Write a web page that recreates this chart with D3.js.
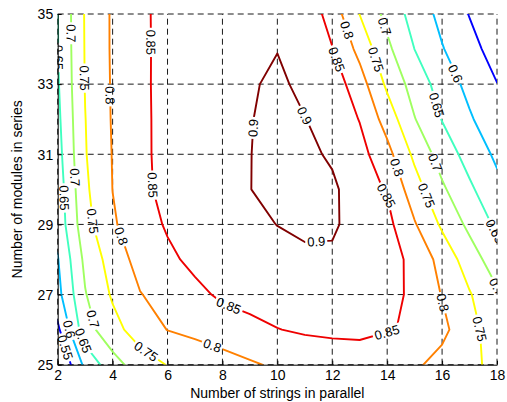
<!DOCTYPE html>
<html><head><meta charset="utf-8">
<script src="https://cdn.jsdelivr.net/npm/d3@7"></script>
<style>
html,body{margin:0;padding:0;background:#fff;}
svg{display:block;font-family:"Liberation Sans",Arial,Helvetica,sans-serif;}
</style></head><body>
<svg id="chart" width="507" height="402"></svg>
<script>
// ---------------- data ----------------
const stringsInParallel = [2,3,4,5,6,7,8,9,10,11,12,13,14,15,16,17,18];
const modulesInSeries = [35,34,33,32,31,30,29,28,27,26,25];
// efficiency[row][col]; rows follow modulesInSeries, cols follow stringsInParallel
const efficiency = [
 [0.649,0.754,0.806,0.838,0.869,0.877,0.884,0.888,0.890,0.888,0.827,0.749,0.685,0.630,0.586,0.548,0.515],
 [0.648,0.753,0.806,0.838,0.868,0.880,0.889,0.895,0.899,0.893,0.852,0.785,0.711,0.6495,0.603,0.566,0.530],
 [0.645,0.752,0.805,0.837,0.870,0.881,0.889,0.896,0.907,0.891,0.877,0.822,0.7405,0.679,0.629,0.5855,0.551],
 [0.639,0.749,0.804,0.836,0.870,0.884,0.893,0.898,0.913,0.901,0.884,0.848,0.779,0.702,0.648,0.606,0.566],
 [0.632,0.747,0.802,0.835,0.871,0.886,0.895,0.899,0.915,0.912,0.893,0.867,0.816,0.739,0.678,0.631,0.591],
 [0.623,0.741,0.8005,0.834,0.868,0.886,0.895,0.899,0.918,0.917,0.909,0.872,0.846,0.772,0.708,0.6585,0.6135],
 [0.618,0.732,0.7945,0.8265,0.8555,0.872,0.884,0.892,0.9005,0.912,0.906,0.883,0.8638,0.804,0.742,0.688,0.6405],
 [0.597,0.712,0.772,0.818,0.840,0.8617,0.874,0.883,0.889,0.888,0.893,0.882,0.868,0.838,0.782,0.725,0.672],
 [0.585,0.697,0.7566,0.798,0.8185,0.838,0.858,0.865,0.870,0.874,0.877,0.877,0.8726,0.8355,0.798,0.7537,0.708],
 [0.540,0.680,0.732,0.775,0.801,0.813,0.825,0.838,0.849,0.855,0.857,0.858,0.8515,0.847,0.812,0.767,0.722],
 [0.492,0.6125,0.681,0.725,0.752,0.7654,0.780,0.794,0.8073,0.8217,0.829,0.831,0.830,0.8075,0.784,0.761,0.737]
];
const contourLevels = [0.55,0.6,0.65,0.7,0.75,0.8,0.85,0.9];
const levelColors = ["#0000ff","#00bfff","#40ffbf","#9fff60","#ffff00","#ff8000","#ee0000","#800000"];
const xTickValues = [2,4,6,8,10,12,14,16,18];
const yTickValues = [25,27,29,31,33,35];
const xTitle = "Number of strings in parallel";
const yTitle = "Number of modules in series";
// contour labels: [level, approx strings, approx modules]
const labelSpots = [
 [0.7,2.48,34.45],[0.65,2.02,33.76],[0.75,2.9,33.17],[0.8,3.76,32.68],[0.85,5.3,34.19],
 [0.7,2.54,30.34],[0.65,2.12,29.75],[0.85,5.4,30.12],[0.75,3.11,29.08],[0.8,4.2,28.64],
 [0.6,2.37,26.0],[0.55,2.1,25.45],[0.65,2.83,25.66],[0.7,3.29,26.3],[0.75,5.18,25.33],
 [0.8,7.55,25.37],[0.85,8.2,26.62],[0.9,9.15,31.75],[0.9,10.97,32.09],[0.9,11.42,28.46],
 [0.85,11.99,33.66],[0.8,12.46,34.52],[0.75,13.52,33.69],[0.7,13.85,34.63],[0.6,16.38,33.26],
 [0.65,15.7,32.38],[0.8,14.25,30.6],[0.7,15.6,30.72],[0.85,13.81,29.75],[0.75,15.26,29.77],
 [0.65,17.82,28.76],[0.7,17.86,26.96],[0.8,15.99,26.76],[0.75,17.38,26.02],[0.85,14.04,25.8]
];

// ---------------- layout ----------------
const x = d3.scaleLinear().domain([2,18]).range([57.7,497]);
const y = d3.scaleLinear().domain([25,35]).range([364.7,14]);
const X0 = x(2), X1 = x(18), Y0 = y(35), Y1 = y(25);

const svg = d3.select("#chart");
const defs = svg.append("defs");
defs.append("clipPath").attr("id","plotClip").append("rect")
  .attr("x",X0).attr("y",Y0).attr("width",X1-X0).attr("height",Y1-Y0);
const mask = defs.append("mask").attr("id","labelMask")
  .attr("maskUnits","userSpaceOnUse").attr("x",0).attr("y",0).attr("width",507).attr("height",402);
mask.append("rect").attr("x",0).attr("y",0).attr("width",507).attr("height",402).attr("fill","#fff");

// grid
const grid = svg.append("g").attr("fill","none").attr("stroke","#000")
  .attr("stroke-width",0.9).attr("stroke-dasharray","6,4");
grid.selectAll("line.gx").data(xTickValues).join("line").attr("class","gx")
  .attr("x1",d=>x(d)).attr("x2",d=>x(d)).attr("y1",Y1).attr("y2",Y0);
grid.selectAll("line.gy").data(yTickValues).join("line").attr("class","gy")
  .attr("x1",X0).attr("x2",X1).attr("y1",d=>y(d)).attr("y2",d=>y(d));

// contours
const nx = stringsInParallel.length, ny = modulesInSeries.length;
const stepX = stringsInParallel[1]-stringsInParallel[0];
const stepY = modulesInSeries[1]-modulesInSeries[0];
const toData = (u,v) => [stringsInParallel[0] + (u-0.5)*stepX, modulesInSeries[0] + (v-0.5)*stepY];
const contourData = d3.contours().size([nx,ny]).thresholds(contourLevels)(efficiency.flat());
const proj = d3.geoTransform({point(u,v){ const p = toData(u,v); this.stream.point(x(p[0]), y(p[1])); }});
const path = d3.geoPath(proj);

const lines = svg.append("g").attr("clip-path","url(#plotClip)")
  .append("g").attr("mask","url(#labelMask)");
lines.selectAll("path").data(contourData).join("path")
  .attr("d",path).attr("fill","none")
  .attr("stroke",(d,i)=>levelColors[i]).attr("stroke-width",1.9)
  .attr("stroke-linejoin","round").attr("stroke-linecap","round");

// pixel rings per level for labels
const eps = 0.01;
const inside = p => p[0]>=X0-eps && p[0]<=X1+eps && p[1]>=Y0-eps && p[1]<=Y1+eps;
const pixelRings = contourData.map(mp => {
  const out = [];
  mp.coordinates.forEach(poly => poly.forEach(ring => {
    out.push(ring.map(([u,v]) => { const p = toData(u,v); return [x(p[0]), y(p[1])]; }));
  }));
  return out;
});

const labelG = svg.append("g").attr("clip-path","url(#plotClip)");
labelSpots.forEach(([lev, sx, sy]) => {
  const li = contourLevels.indexOf(lev);
  const px = x(sx), py = y(sy);
  let best = null;
  pixelRings[li].forEach(ring => {
    for (let k=0;k<ring.length-1;k++){
      const a = ring[k], b = ring[k+1];
      if (!inside(a) || !inside(b)) continue;
      const dx = b[0]-a[0], dy = b[1]-a[1];
      const L2 = dx*dx+dy*dy; if (L2 < 1e-9) continue;
      let t = ((px-a[0])*dx + (py-a[1])*dy)/L2; t = Math.max(0,Math.min(1,t));
      const qx = a[0]+t*dx, qy = a[1]+t*dy;
      const d2 = (qx-px)*(qx-px)+(qy-py)*(qy-py);
      if (!best || d2 < best.d2) best = {d2, qx, qy, ang: Math.atan2(dy,dx)*180/Math.PI};
    }
  });
  if (!best) return;
  let ang = best.ang;
  if (ang > 90) ang -= 180;
  if (ang <= -90) ang += 180;
  const txt = labelG.append("text")
    .attr("transform",`translate(${best.qx},${best.qy}) rotate(${ang})`)
    .attr("text-anchor","middle").attr("dy","0.36em")
    .attr("font-size",13).attr("fill","#000").text(String(lev));
  const w = txt.node().getComputedTextLength();
  mask.append("rect")
    .attr("transform",`translate(${best.qx},${best.qy}) rotate(${ang})`)
    .attr("x",-w/2-2).attr("y",-6).attr("width",w+4).attr("height",12).attr("fill","#000");
});

// axes
const xAxis = svg.append("g").attr("transform",`translate(0,${Y1})`)
  .call(d3.axisBottom(x).tickValues(xTickValues).tickSizeInner(-4).tickSizeOuter(0).tickFormat(d3.format("d")));
xAxis.selectAll("text").attr("y",5.5).attr("dy","0.71em").attr("font-size",14).attr("fill","#000")
  .attr("font-family","'Liberation Sans',Arial,sans-serif");
const yAxis = svg.append("g").attr("transform",`translate(${X0},0)`)
  .call(d3.axisLeft(y).tickValues(yTickValues).tickSizeInner(-4).tickSizeOuter(0).tickFormat(d3.format("d")));
yAxis.selectAll("text").attr("x",-4.5).attr("dy","0.34em").attr("font-size",14).attr("fill","#000")
  .attr("font-family","'Liberation Sans',Arial,sans-serif");
svg.selectAll(".domain").attr("stroke","#000").attr("stroke-width",1);
svg.selectAll(".tick line").attr("stroke","#000");

// titles
svg.append("text").attr("x",x(10)).attr("y",398).attr("text-anchor","middle")
  .attr("font-size",14).attr("fill","#000").text(xTitle);
svg.append("text").attr("transform",`translate(22,${y(30)}) rotate(-90)`).attr("text-anchor","middle")
  .attr("font-size",14).attr("fill","#000").text(yTitle);
</script>
</body></html>
